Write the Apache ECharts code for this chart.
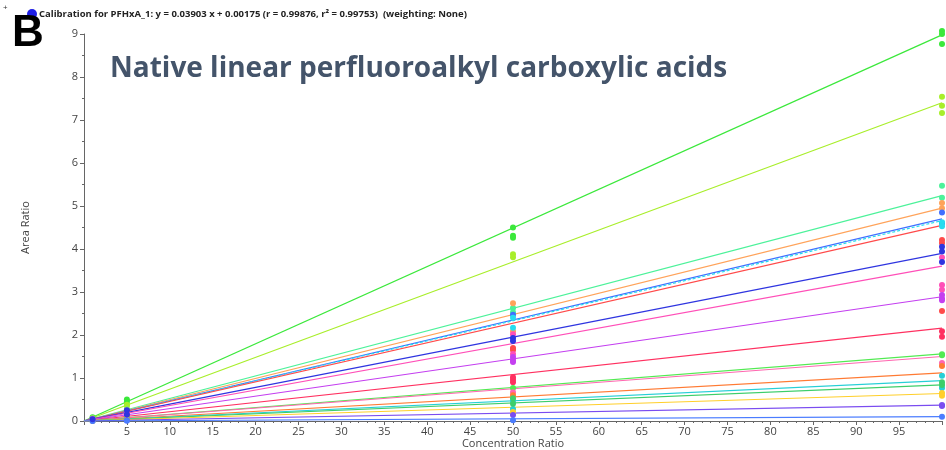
<!DOCTYPE html>
<html>
<head>
<meta charset="utf-8">
<script src="https://cdn.jsdelivr.net/npm/echarts@6/dist/echarts.min.js"></script>
<style>
  html, body { margin: 0; padding: 0; background: #fff; }
  #chart { width: 946px; height: 450px; }
</style>
</head>
<body>
<div id="chart"></div>
<script>
// calibration lines, one per compound (value of the fitted line at x = 0 and x = 100)
const fitAt0 = [0.0, 0.0, 0.0, 0.0, 0.0, 0.0, 0.0, 0.00175, 0.0, 0.0, 0.0, 0.0, 0.0, 0.0, 0.0, 0.0, 0.0, 0.0, 0.0];
const fitAt100 = [8.98, 7.40, 5.24, 4.95, 4.70, 4.66, 4.55, 3.90, 3.60, 2.89, 2.16, 1.56, 1.50, 1.12, 0.94, 0.84, 0.64, 0.37, 0.10];
const lineColors = ['#3be83b', '#a8ee2a', '#4cf29a', '#ffa35a', '#3f6fff', '#28dcee', '#ff4a4a', '#2f35e0', '#ff4fb8', '#c43ff0',
  '#ff3060', '#52ea52', '#ff66b0', '#ff7a33', '#26cfd6', '#3dce6a', '#ffcf2a', '#7a4cf0', '#4a7cff'];
const lineDashed = [false, false, false, false, false, true, false, false, false, false, false, false, false, false, false, false, false, false, false];

// measured calibrator responses (area ratio) per compound at each level
const concLevels = [1, 5, 50, 100];
const resp1 = [0.09, 0.07, 0.05, 0.05, 0.05, 0.05, 0.04, 0.04, 0.04, 0.03, 0.02, 0.02, 0.015, 0.01, 0.01, 0.008, 0.006, 0.004, 0.001];
const resp5 = [[0.50, 0.45], [0.38, 0.35], [0.27], [0.25], [0.24], [0.23], [0.22], [0.25, 0.15], [0.18], [0.14], [0.11], [0.08],
  [0.07], [0.06], [0.05], [0.04], [0.03], [0.02], [0.005]];
const resp50 = [[4.50, 4.31, 4.26], [3.88, 3.81], [2.63, 2.53], [2.74, 2.09], [2.47], [2.40, 2.17], [1.70, 1.65], [1.93, 1.86], [2.02, 1.56],
  [1.49, 1.42, 1.37], [1.02, 0.96, 0.90], [0.77], [0.67], [0.60], [0.47, 0.28], [0.53, 0.40], [0.21], [0.14], [0.02]];
const resp100 = [[9.07, 9.00, 8.77], [7.54, 7.33, 7.16], [5.47, 5.19], [5.07, 4.95], [4.85, 4.60], [4.62, 4.53], [4.21, 4.14, 2.56], [4.05, 3.94, 3.70],
  [3.80, 3.16, 3.05], [2.93, 2.85, 2.81], [2.09, 1.96], [1.55, 1.53], [1.35], [1.28], [1.05, 0.77], [0.90, 0.84], [0.65, 0.59], [0.37, 0.35], [0.10]];

const xTickLabels = ['5', '10', '15', '20', '25', '30', '35', '40', '45', '50', '55', '60', '65', '70', '75', '80', '85', '90', '95'];

const chart = echarts.init(document.getElementById('chart'));

const lineSeries = fitAt100.map((end, i) => ({
  type: 'line',
  data: [[0, fitAt0[i]], [100, end]],
  showSymbol: false,
  silent: true,
  z: 2,
  lineStyle: { color: lineColors[i], width: 1.2, type: lineDashed[i] ? [3, 2] : 'solid' }
}));

const pointSeries = fitAt100.map((end, i) => {
  const pts = [[concLevels[0], resp1[i]]];
  resp5[i].forEach(v => pts.push([concLevels[1], v]));
  resp50[i].forEach(v => pts.push([concLevels[2], v]));
  resp100[i].forEach(v => pts.push([concLevels[3], v]));
  return {
    type: 'scatter',
    data: pts,
    symbolSize: 6,
    clip: false,
    z: i === 7 ? 5 : 3,
    itemStyle: { color: lineColors[i], opacity: 1 }
  };
});

const axisText = { color: '#444', fontSize: 11, fontFamily: 'Open Sans' };

chart.setOption({
  animation: false,
  grid: { left: 84, right: 4, top: 34, bottom: 29, outerBoundsMode: 'none' },
  xAxis: {
    type: 'value',
    min: 0,
    max: 100,
    interval: 5,
    name: 'Concentration Ratio',
    nameLocation: 'middle',
    nameGap: 17,
    nameMoveOverlap: false,
    nameTextStyle: Object.assign({ verticalAlign: 'top' }, axisText),
    axisLine: { lineStyle: { color: '#666', width: 1 } },
    axisTick: { length: 4, lineStyle: { color: '#666' } },
    minorTick: { show: true, splitNumber: 5, length: 2, lineStyle: { color: '#666' } },
    splitLine: { show: false },
    axisLabel: Object.assign({ margin: 5, formatter: v => xTickLabels.includes(String(v)) ? String(v) : '' }, axisText)
  },
  yAxis: {
    type: 'value',
    min: 0,
    max: 9,
    interval: 1,
    name: 'Area Ratio',
    nameLocation: 'middle',
    nameGap: 53,
    nameMoveOverlap: false,
    nameRotate: 90,
    nameTextStyle: axisText,
    axisLine: { show: true, lineStyle: { color: '#666', width: 1 } },
    axisTick: { show: true, length: 4, lineStyle: { color: '#666' } },
    minorTick: { show: true, splitNumber: 2, length: 2, lineStyle: { color: '#666' } },
    splitLine: { show: false },
    axisLabel: Object.assign({ margin: 6 }, axisText)
  },
  graphic: [
    { type: 'text', left: 3, top: 4, style: { text: '+', fontSize: 8, fill: '#333', fontFamily: 'Open Sans' } },
    { type: 'circle', shape: { cx: 32, cy: 14, r: 5 }, style: { fill: '#1f1fe6' } },
    { type: 'text', left: 39, top: 9, style: { text: 'Calibration for PFHxA_1: y = 0.03903 x + 0.00175 (r = 0.99876, r\u00b2 = 0.99753)  (weighting: None)',
      fontSize: 9.5, fontWeight: 'bold', fill: '#222', fontFamily: 'Open Sans' } },
    { type: 'text', left: 12, top: 12, z: 10, style: { text: 'B', fontSize: 44, fontWeight: 'bold', fill: '#000', fontFamily: 'Liberation Sans' } },
    { type: 'text', left: 110, top: 55, z: 10, style: { text: 'Native linear perfluoroalkyl carboxylic acids',
      fontSize: 28, fontWeight: 'bold', fill: '#44546a', fontFamily: 'Open Sans' } }
  ],
  series: lineSeries.concat(pointSeries)
});
</script>
</body>
</html>
